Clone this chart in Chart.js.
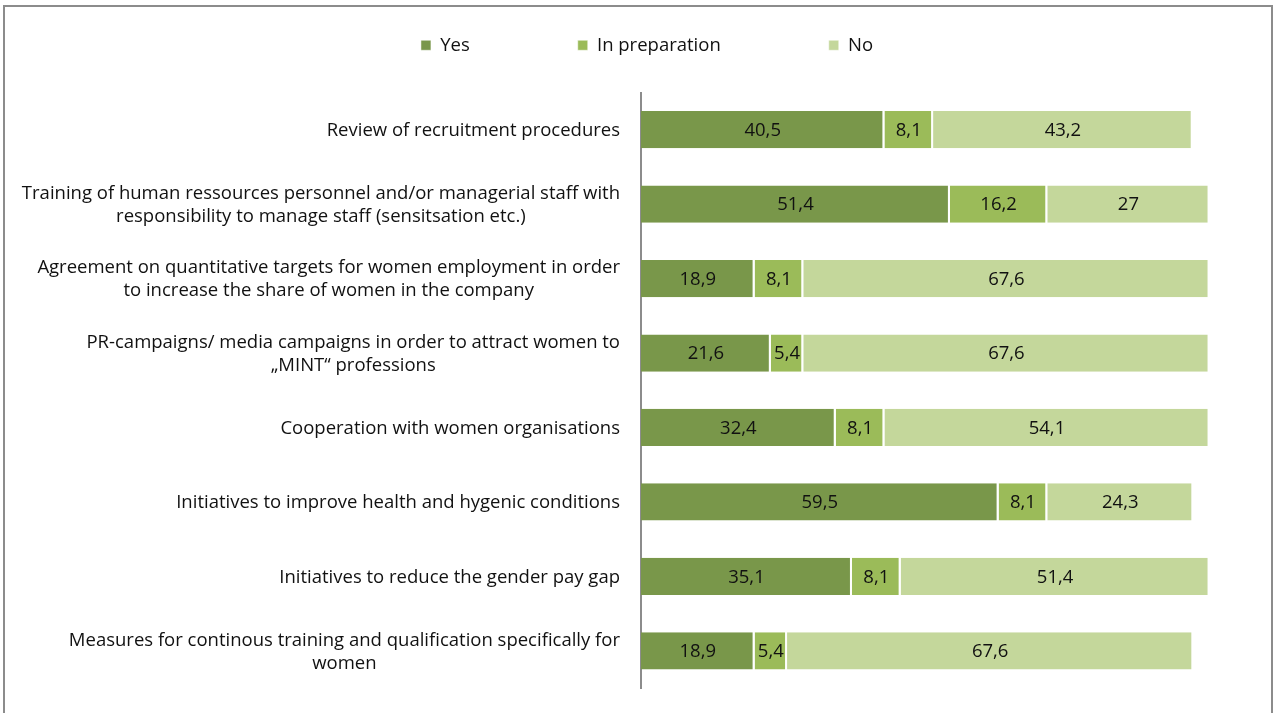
<!DOCTYPE html>
<html>
<head>
<meta charset="utf-8">
<script src="https://cdn.jsdelivr.net/npm/chart.js@4"></script>
<style>
  body { margin: 0; background: #fff; }
  #wrap { position: relative; width: 1273px; height: 713px; }
  #frame { position: absolute; left: 3px; top: 5px; width: 1266px; height: 720px;
           border: 2px solid #8c8c8c; border-bottom: none; pointer-events: none; }
</style>
</head>
<body>
<div id="wrap">
  <canvas id="myChart" width="1273" height="713"></canvas>
  <div id="frame"></div>
</div>
<script>
var measures = [
  'Review of recruitment procedures',
  ['Training of human ressources personnel and/or managerial staff with', 'responsibility to manage staff (sensitsation etc.)'],
  ['Agreement on quantitative targets for women employment in order', 'to increase the share of women in the company'],
  ['PR-campaigns/ media campaigns in order to attract women to', '\u201eMINT\u201c professions'],
  'Cooperation with women organisations',
  'Initiatives to improve health and hygenic conditions',
  'Initiatives to reduce the gender pay gap',
  ['Measures for continous training and qualification specifically for', 'women']
];
var yes = [40.5, 51.4, 18.9, 21.6, 32.4, 59.5, 35.1, 18.9];
var inPreparation = [8.1, 16.2, 8.1, 5.4, 8.1, 8.1, 8.1, 5.4];
var no = [43.2, 27, 67.6, 67.6, 54.1, 24.3, 51.4, 67.6];

var FONT = '"Open Sans", "Liberation Sans", sans-serif';
var FSIZE = 18.5;

// value labels inside every segment
var valueLabels = {
  id: 'valueLabels',
  afterDatasetsDraw: function(chart) {
    var c = chart.ctx;
    c.save();
    c.font = FSIZE + 'px ' + FONT;
    c.fillStyle = '#111';
    c.textAlign = 'center';
    c.textBaseline = 'middle';
    chart.data.datasets.forEach(function(ds, di) {
      chart.getDatasetMeta(di).data.forEach(function(bar, i) {
        var cx = (bar.x + bar.base) / 2;
        c.fillText(String(ds.data[i]).replace('.', ','), cx, bar.y + 1);
      });
    });
    c.restore();
  }
};

// category labels: block right aligned, lines centred inside the block
var catLabels = {
  id: 'catLabels',
  afterDraw: function(chart) {
    var c = chart.ctx;
    var sc = chart.scales.y;
    c.save();
    c.font = FSIZE + 'px ' + FONT;
    c.fillStyle = '#111';
    c.textAlign = 'center';
    c.textBaseline = 'middle';
    var right = sc.right - 21;
    chart.data.labels.forEach(function(lab, i) {
      var lines = Array.isArray(lab) ? lab : [lab];
      var widest = 0;
      lines.forEach(function(l) { widest = Math.max(widest, c.measureText(l).width); });
      var y0 = sc.getPixelForTick(i) + 1 - (lines.length - 1) * 23 / 2;
      lines.forEach(function(l, k) {
        c.fillText(l, right - widest / 2, y0 + k * 23);
      });
    });
    c.restore();
  }
};

var ctx = document.getElementById('myChart').getContext('2d');
var myChart = new Chart(ctx, {
  type: 'bar',
  data: {
    labels: measures,
    datasets: [
      { label: 'Yes', data: yes, backgroundColor: '#79974a' },
      { label: 'In preparation', data: inPreparation, backgroundColor: '#9bbb59' },
      { label: 'No', data: no, backgroundColor: '#c4d79b' }
    ]
  },
  options: {
    indexAxis: 'y',
    responsive: false,
    animation: false,
    datasets: {
      bar: {
        categoryPercentage: 1,
        barPercentage: 0.5,
        borderColor: '#ffffff',
        borderWidth: { top: 0, bottom: 0, left: 0, right: 2 },
        borderSkipped: false
      }
    },
    layout: { padding: { top: -72, right: 31, bottom: 25, left: 52 } },
    plugins: {
      tooltip: { enabled: false },
      legend: {
        position: 'top',
        labels: {
          boxWidth: 10,
          boxHeight: 10,
          padding: 108,
          color: '#111',
          font: { family: FONT, size: FSIZE }
        }
      }
    },
    scales: {
      x: {
        stacked: true,
        min: 0,
        max: 100,
        position: 'top',
        grid: { display: false },
        border: { display: false },
        ticks: { display: false },
        afterFit: function(s) { s.height = 28; }
      },
      y: {
        stacked: true,
        grid: { display: false, drawTicks: false },
        border: { display: true, color: '#8c8c8c', width: 2 },
        ticks: { display: false },
        afterFit: function(s) { s.width = 641 - 52; }
      }
    }
  },
  plugins: [valueLabels, catLabels]
});
</script>
</body>
</html>
